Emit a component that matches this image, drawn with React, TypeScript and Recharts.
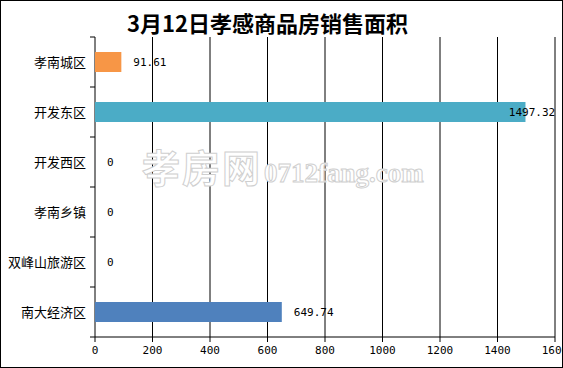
import React from 'react'
import {
  BarChart,
  Bar,
  XAxis,
  YAxis,
  CartesianGrid,
  LabelList,
  Cell,
} from 'recharts'

const districts = ['孝南城区', '开发东区', '开发西区', '孝南乡镇', '双峰山旅游区', '南大经济区']
const areas = [91.61, 1497.32, 0, 0, 0, 649.74]
const barColors = ['#F79646', '#4BACC6', '#4F81BD', '#4F81BD', '#4F81BD', '#4F81BD']
const xTicks = [0, 200, 400, 600, 800, 1000, 1200, 1400, 1600]

const data = districts.map((name, i) => ({ name, area: areas[i] }))

const W = 561
const H = 366
const AXIS_W = 94
const X_AXIS_H = 30
const margin = { top: 36, right: 7, bottom: 0, left: 0 }
const plotRight = W - margin.right
const band = (H - margin.top - margin.bottom - X_AXIS_H) / districts.length

const monoFont = '"DejaVu Sans Mono", monospace'
const cjkFont = '"Noto Sans CJK SC", sans-serif'

// category label + tick marks on the band boundaries
const CatTick = (props: any) => {
  const { y, payload, index } = props
  const top = y - band / 2
  const bottom = y + band / 2
  return (
    <g>
      <text
        x={AXIS_W - 9}
        y={y}
        dy={4.5}
        textAnchor="end"
        fontSize={13}
        fontFamily={cjkFont}
        fill="#000"
      >
        {payload.value}
      </text>
      <line x1={AXIS_W - 5} x2={AXIS_W} y1={top} y2={top} stroke="#000" />
      {index === districts.length - 1 && (
        <line x1={AXIS_W - 5} x2={AXIS_W} y1={bottom} y2={bottom} stroke="#000" />
      )}
    </g>
  )
}

const ValueLabel = (props: any) => {
  const { x, y, width, height, value } = props
  const text = String(value)
  const w = text.length * 6.6
  let tx = x + (width || 0) + 12
  if (tx + w > plotRight) tx = plotRight - w
  return (
    <text
      x={tx}
      y={y + height / 2}
      dy={4}
      fontSize={11}
      fontFamily={monoFont}
      fill="#000"
    >
      {text}
    </text>
  )
}

export default function App() {
  return (
    <div
      style={{
        position: 'absolute',
        left: 0,
        top: 0,
        width: 563,
        height: 368,
        boxSizing: 'border-box',
        border: '1px solid #000',
        background: '#fff',
      }}
    >
      <div
        style={{
          position: 'absolute',
          left: 0,
          right: 0,
          top: 7,
          textAlign: 'center',
          fontFamily: cjkFont,
          fontWeight: 'bold',
          fontSize: 22,
          lineHeight: '28px',
          color: '#000',
          paddingRight: 28,
        }}
      >
        3月12日孝感商品房销售面积
      </div>
      <BarChart
        width={W}
        height={H}
        data={data}
        layout="vertical"
        margin={margin}
        barSize={20}
      >
        <CartesianGrid horizontal={false} stroke="#000" strokeWidth={1} />
        <XAxis
          type="number"
          domain={[0, 1600]}
          ticks={xTicks}
          interval={0}
          height={X_AXIS_H}
          axisLine={{ stroke: '#000' }}
          tickLine={{ stroke: '#000' }}
          tickSize={5}
          tick={{ fontSize: 11, fontFamily: monoFont, fill: '#000' }}
          tickMargin={4}
        />
        <YAxis
          type="category"
          dataKey="name"
          width={AXIS_W}
          axisLine={false}
          tickLine={false}
          interval={0}
          tick={CatTick}
        />
        <Bar dataKey="area" isAnimationActive={false} minPointSize={0.01}>
          {data.map((d, i) => (
            <Cell key={d.name} fill={barColors[i]} />
          ))}
          <LabelList dataKey="area" content={ValueLabel} />
        </Bar>
      </BarChart>
      <div
        style={{
          position: 'absolute',
          left: 141,
          top: 137,
          whiteSpace: 'nowrap',
          color: '#fff',
          WebkitTextStroke: '1px #cfcfcf',
          pointerEvents: 'none',
        }}
      >
        <span style={{ fontFamily: cjkFont, fontWeight: 'bold', fontSize: 38, letterSpacing: 2 }}>
          孝房网
        </span>
        <span
          style={{
            fontFamily: '"Liberation Serif", serif',
            fontWeight: 'bold',
            fontSize: 27,
            marginLeft: 2,
          }}
        >
          0712fang.com
        </span>
      </div>
    </div>
  )
}
